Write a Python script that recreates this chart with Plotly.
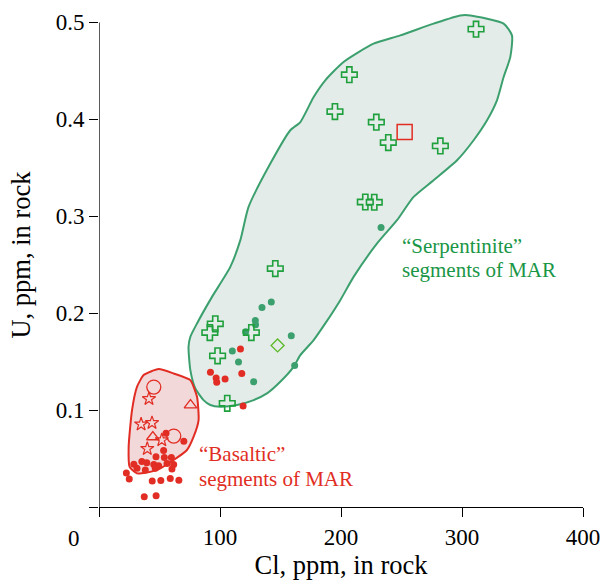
import plotly.graph_objects as go

# ---- data (Cl ppm, U ppm) ----
serp_poly_x = [93.4,108.5,116.8,123.6,141.6,158.1,166.4,177.4,187.0,202.1,226.9,249.0,276.5,298.6,306.9,334.4,341.3,339.9,334.4,328.9,320.7,309.6,295.9,276.5,260.0,246.3,229.8,210.4,199.4,187.0,177.4,166.4,160.8,149.8,138.8,127.8,114.0,100.2,92.0,86.4,79.6,75.5,74.0,75.5,81.0,93.4]
serp_poly_y = [0.2168,0.2477,0.2753,0.3096,0.3543,0.3887,0.3972,0.423,0.4402,0.4591,0.478,0.4866,0.4987,0.5072,0.5072,0.4987,0.4866,0.4642,0.4436,0.4196,0.399,0.3784,0.3577,0.3371,0.3199,0.2959,0.2719,0.2374,0.2134,0.1894,0.1722,0.1567,0.1446,0.1292,0.1172,0.1103,0.1052,0.1034,0.1052,0.1103,0.1224,0.1412,0.1653,0.1756,0.1894,0.2168]

bas_poly_x = [49.3,61.7,75.5,81.0,82.3,78.2,72.7,61.7,47.9,31.4,25.3,24.5,27.3,31.4,36.9,49.3]
bas_poly_y = [0.1423,0.1378,0.1309,0.1137,0.0897,0.0725,0.0588,0.0485,0.0381,0.0347,0.0415,0.0622,0.1,0.124,0.1361,0.1423]

cross_x = [311.6,206.9,195.0,229.2,239.1,282.1,220.1,227.5,145.7,96.1,91.6,125.9,98.0,106.0]
cross_y = [0.493,0.446,0.408,0.397,0.376,0.3725,0.3147,0.3144,0.246,0.189,0.180,0.180,0.156,0.107]

square_x = [252.6]
square_y = [0.387]

diamond_x = [147.6]
diamond_y = [0.1667]

gdot_x = [142.4,134.7,129.2,129.4,121.2,110.2,115.3,127.8,158.9,161.7,233.1]
gdot_y = [0.2116,0.2059,0.1925,0.1881,0.1807,0.161,0.1495,0.1292,0.1768,0.1459,0.2884]

rdot_x = [116.9,92.1,96.8,97.3,104.2,118.0,119.1,
          55.4,70.1,53.4,47.1,54.0,59.8,35.4,39.5,45.3,49.3,56.2,61.7,28.8,31.4,38.3,46.5,60.3,
          22.6,25.0,44.0,51.1,58.9,66.0,37.4,47.2]
rdot_y = [0.1629,0.1389,0.133,0.1286,0.132,0.1378,0.1043,
          0.076,0.0678,0.0582,0.0519,0.0512,0.051,0.0469,0.0456,0.0438,0.0426,0.045,0.0438,0.0441,0.0399,0.0381,0.0399,0.0392,
          0.0351,0.0289,0.0268,0.0273,0.0294,0.0276,0.0105,0.0116]

circle_x = [45.3,61.8]
circle_y = [0.1237,0.0732]

tri_x = [75.6,44.5]
tri_y = [0.1052,0.0722]

star_x = [41.3,34.8,43.8,39.9,51.9]
star_y = [0.1116,0.0854,0.0868,0.0601,0.0691]

x_ticks = [0,100,200,300,400]
x_ticklabels = ["", "100", "200", "300", "400"]
y_ticks = [0,0.1,0.2,0.3,0.4,0.5]
y_ticklabels = ["", "0.1", "0.2", "0.3", "0.4", "0.5"]

X_RANGE = [0, 400]
Y_RANGE = [0, 0.52]

# ---- styles ----
GREEN_LINE = "rgb(60,160,110)"
GREEN_FILL = "rgb(228,236,233)"
GREEN_MARK = "rgb(30,160,60)"
RED = "rgb(225,45,35)"
RED_FILL = "rgb(243,216,218)"
FONT = "Liberation Serif"

fig = go.Figure()

fig.add_trace(go.Scatter(x=serp_poly_x, y=serp_poly_y, mode="lines", fill="toself",
                         fillcolor=GREEN_FILL,
                         line=dict(color=GREEN_LINE, width=2, shape="spline", smoothing=0.6),
                         hoverinfo="skip"))
fig.add_trace(go.Scatter(x=bas_poly_x, y=bas_poly_y, mode="lines", fill="toself",
                         fillcolor=RED_FILL,
                         line=dict(color=RED, width=2, shape="spline", smoothing=0.5),
                         hoverinfo="skip"))

fig.add_trace(go.Scatter(x=gdot_x, y=gdot_y, mode="markers",
                         marker=dict(symbol="circle", size=7, color=GREEN_LINE, line=dict(width=0))))
fig.add_trace(go.Scatter(x=rdot_x, y=rdot_y, mode="markers",
                         marker=dict(symbol="circle", size=7, color=RED, line=dict(width=0))))
fig.add_trace(go.Scatter(x=cross_x, y=cross_y, mode="markers", cliponaxis=False,
                         marker=dict(symbol="cross-open", size=13, color=GREEN_MARK,
                                     line=dict(color=GREEN_MARK, width=1.6))))
fig.add_trace(go.Scatter(x=square_x, y=square_y, mode="markers",
                         marker=dict(symbol="square-open", size=15, color=RED,
                                     line=dict(color=RED, width=1.5))))
fig.add_trace(go.Scatter(x=diamond_x, y=diamond_y, mode="markers",
                         marker=dict(symbol="diamond-open", size=10, color="rgb(90,185,40)",
                                     line=dict(color="rgb(90,185,40)", width=1.3))))
fig.add_trace(go.Scatter(x=circle_x, y=circle_y, mode="markers",
                         marker=dict(symbol="circle-open", size=14, color=RED,
                                     line=dict(color=RED, width=1.3))))
fig.add_trace(go.Scatter(x=tri_x, y=tri_y, mode="markers",
                         marker=dict(symbol="triangle-up-open", size=11, color=RED,
                                     line=dict(color=RED, width=1.3))))
fig.add_trace(go.Scatter(x=star_x, y=star_y, mode="markers",
                         marker=dict(symbol="star-open", size=10, color=RED,
                                     line=dict(color=RED, width=1.2))))

# y-axis line drawn to 0.5 only
fig.add_shape(type="line", x0=0, x1=0, y0=0, y1=0.5, xref="x", yref="y",
              line=dict(color="black", width=1.3), layer="above")

ann_font_g = dict(family=FONT, size=21, color="rgb(25,150,70)")
ann_font_r = dict(family=FONT, size=21, color=RED)
fig.add_annotation(x=249.0, y=0.269, text="\u201cSerpentinite\u201d", showarrow=False,
                   xanchor="left", yanchor="middle", font=ann_font_g)
fig.add_annotation(x=249.0, y=0.2443, text="segments of MAR", showarrow=False,
                   xanchor="left", yanchor="middle", font=ann_font_g)
fig.add_annotation(x=81.0, y=0.0546, text="\u201cBasaltic\u201d", showarrow=False,
                   xanchor="left", yanchor="middle", font=ann_font_r)
fig.add_annotation(x=81.0, y=0.0289, text="segments of MAR", showarrow=False,
                   xanchor="left", yanchor="middle", font=ann_font_r)
# corner "0" label (shared origin label)
fig.add_annotation(x=-20.4 / X_RANGE[1], y=-0.033 / Y_RANGE[1], xref="paper", yref="paper",
                   text="0", showarrow=False, xanchor="center", yanchor="middle",
                   font=dict(family=FONT, size=23, color="black"))

fig.update_layout(
    width=602, height=583,
    margin=dict(l=99, r=19, t=3, b=76),
    paper_bgcolor="white", plot_bgcolor="white",
    showlegend=False,
    font=dict(family=FONT, size=23, color="black"),
    xaxis=dict(range=X_RANGE, tickvals=x_ticks, ticktext=x_ticklabels,
               showline=True, linecolor="black", linewidth=1.3,
               ticks="outside", ticklen=9, tickwidth=1.3, tickcolor="black",
               showgrid=False, zeroline=False,
               tickfont=dict(family=FONT, size=23),
               title=dict(text="Cl, ppm, in rock", font=dict(family=FONT, size=26.5), standoff=2)),
    yaxis=dict(range=Y_RANGE, tickvals=y_ticks, ticktext=y_ticklabels,
               showline=False,
               ticks="outside", ticklen=9, tickwidth=1.3, tickcolor="black",
               showgrid=False, zeroline=False,
               tickfont=dict(family=FONT, size=23),
               title=dict(text="U, ppm, in rock", font=dict(family=FONT, size=26.5), standoff=17)),
)

fig.write_html("out.html")
